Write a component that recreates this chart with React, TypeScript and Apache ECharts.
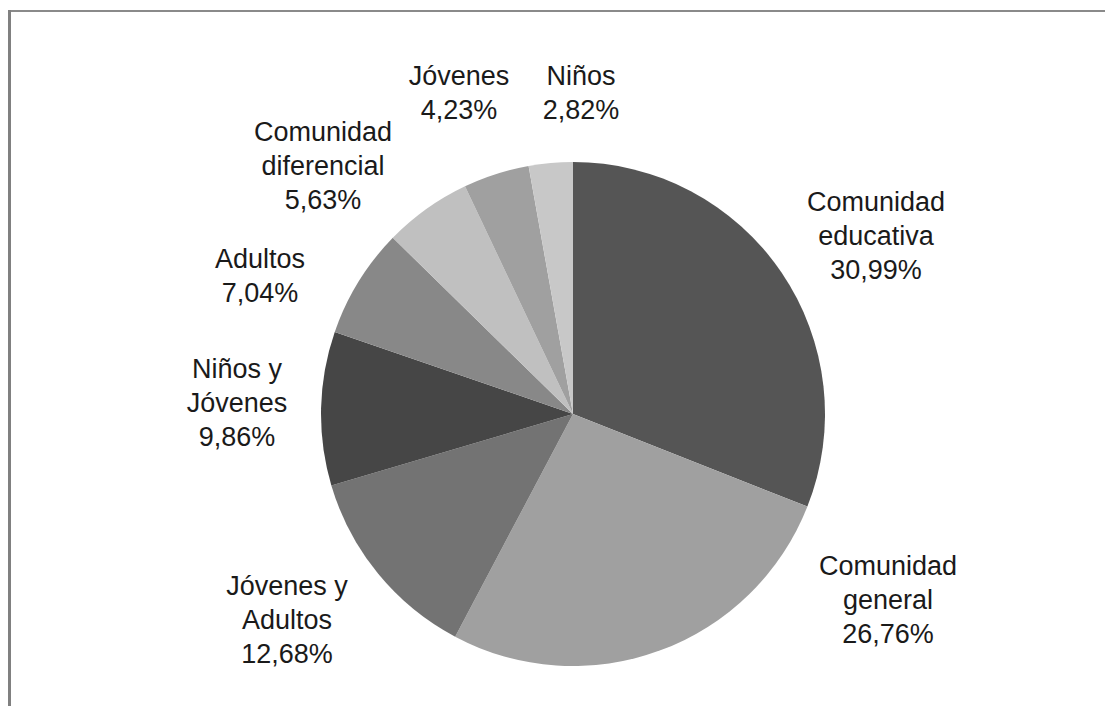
import React, { useEffect, useRef } from "react";
import * as echarts from "echarts";

const categories = [
  "Comunidad\neducativa",
  "Comunidad\ngeneral",
  "Jóvenes y\nAdultos",
  "Niños y\nJóvenes",
  "Adultos",
  "Comunidad\ndiferencial",
  "Jóvenes",
  "Niños",
];
const percents = [30.99, 26.76, 12.68, 9.86, 7.04, 5.63, 4.23, 2.82];
const colors = ["#555555", "#a0a0a0", "#737373", "#464646", "#888888", "#c0c0c0", "#a0a0a0", "#c8c8c8"];
const labelPos: [number, number][] = [
  [876, 236],
  [888, 600],
  [287, 620],
  [237, 403],
  [260, 276],
  [323, 166],
  [459, 93],
  [581, 93],
];

export default function App() {
  const ref = useRef<HTMLDivElement>(null);
  useEffect(() => {
    if (!ref.current) return;
    const chart = echarts.init(ref.current, undefined, { renderer: "svg" });
    chart.setOption({
      animation: false,
      backgroundColor: "#ffffff",
      graphic: [
        { type: "line", shape: { x1: 8, y1: 11, x2: 1105, y2: 11 }, style: { stroke: "#8a8a8a", lineWidth: 2 } },
        { type: "line", shape: { x1: 9.5, y1: 10, x2: 9.5, y2: 706 }, style: { stroke: "#808080", lineWidth: 3 } },
      ],
      series: [
        {
          type: "pie",
          center: [573, 414],
          radius: 252,
          startAngle: 90,
          clockwise: true,
          silent: true,
          itemStyle: { borderWidth: 0 },
          label: {
            show: true,
            position: "outside",
            fontFamily: "Liberation Sans, Arial, sans-serif",
            fontSize: 27,
            lineHeight: 34,
            color: "#1a1a1a",
            align: "center",
            verticalAlign: "middle",
            formatter: (p: any) => `${p.name}\n${percents[p.dataIndex].toFixed(2).replace(".", ",")}%`,
          },
          labelLine: { show: false },
          labelLayout: (params: any) => {
            const pos = labelPos[params.dataIndex];
            return { x: pos[0], y: pos[1], align: "center", verticalAlign: "middle" };
          },
          data: categories.map((c, i) => ({ name: c, value: percents[i], itemStyle: { color: colors[i] } })),
        },
      ],
    });
    return () => chart.dispose();
  }, []);
  return (
    <div
      ref={ref}
      style={{ position: "absolute", left: 0, top: 0, width: 1105, height: 706 }}
    />
  );
}
